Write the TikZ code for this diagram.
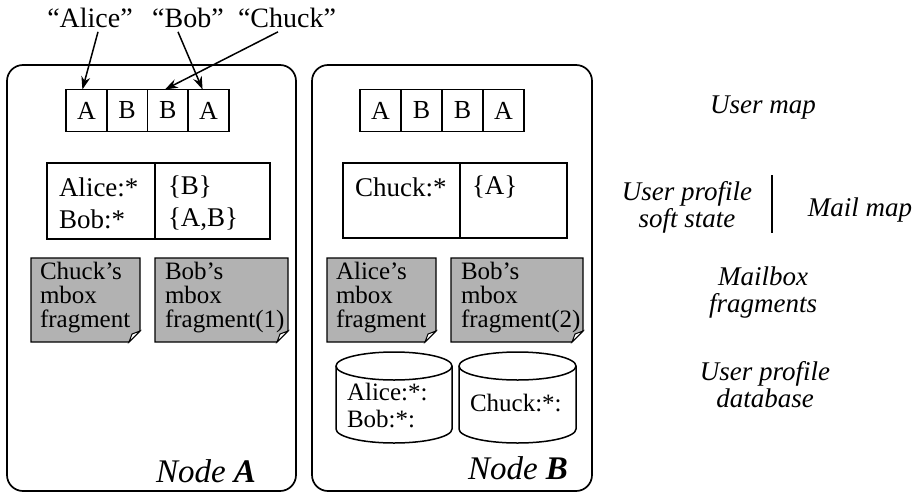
\documentclass[tikz,border=0pt]{standalone}
\usepackage{fontspec}
\setmainfont{Liberation Serif}
\usetikzlibrary{arrows.meta}
\begin{document}
\begin{tikzpicture}[x=1pt,y=-1pt,
  every node/.style={inner sep=0pt,outer sep=0pt},
  line/.style={line width=1.5pt},
  nodebox/.style={line width=1.7pt,rounded corners=16pt},
  cell/.style={draw,line width=1.5pt,minimum width=40.75pt,minimum height=42pt,font=\fontsize{26}{30}\selectfont},
  qlab/.style={font=\fontsize{28}{30}\selectfont},
  arr/.style={line width=1.5pt,-{Stealth[length=13pt,width=9pt]}},
  ttext/.style={font=\fontsize{27}{32}\selectfont,anchor=west},
  ftext/.style={font=\fontsize{25}{24}\selectfont,align=left,anchor=north west},
  frag/.style={line width=1.2pt,fill=black!30},
  ctext/.style={font=\fontsize{25}{27}\selectfont,align=left,anchor=west},
  side/.style={font=\itshape\fontsize{27}{27}\selectfont,align=center},
  ntitle/.style={font=\itshape\fontsize{33}{36}\selectfont,anchor=east}
]
\useasboundingbox (0,0) rectangle (915,495);

% node boxes
\draw[nodebox] (7,65) rectangle (296,491);
\draw[nodebox] (312,65) rectangle (592,491);

% top quote labels
\node[qlab] (qa) at (90,18) {“Alice”};
\node[qlab] (qb) at (188,18) {“Bob”};
\node[qlab] (qc) at (287,18) {“Chuck”};

% user map cells, node A
\node[cell] (a1) at (86.4,110.5) {A};
\node[cell] (a2) at (127.1,110.5) {B};
\node[cell] (a3) at (167.9,110.5) {B};
\node[cell] (a4) at (208.6,110.5) {A};
% user map cells, node B
\node[cell] (b1) at (380.5,110.5) {A};
\node[cell] (b2) at (421.5,110.5) {B};
\node[cell] (b3) at (462.5,110.5) {B};
\node[cell] (b4) at (503.5,110.5) {A};

% arrows
\draw[arr] ([xshift=8pt,yshift=-4pt]qa.south) -- ([xshift=-4pt]a1.north);
\draw[arr] ([xshift=-10pt,yshift=-4pt]qb.south) -- ([xshift=-6pt]a4.north);
\draw[arr] ([xshift=-9pt,yshift=-4pt]qc.south) -- ([xshift=-3pt]a3.north);

% profile / mail map tables
\draw[line] (47,163) rectangle (270,239);
\draw[line] (155,163) -- (155,239);
\node[ttext] (pa1) at (59,187) {Alice:*};
\node[ttext] (pa2) at (59,219) {Bob:*};
\node[ttext] (ma1) at (168,187) {\{B\}};
\node[ttext] (ma2) at (168,219) {\{A,B\}};

\draw[line] (343,163) rectangle (567,238);
\draw[line] (460,163) -- (460,238);
\node[ttext] (pb1) at (355,187) {Chuck:*};
\node[ttext] (mb1) at (472,187) {\{A\}};

% mailbox fragments
\def\frag#1#2#3#4{%
  \filldraw[frag] (#1,#2) -- (#3,#2) -- (#3,#4-11) -- (#3-11,#4) -- (#1,#4) -- cycle;
  \filldraw[line width=1pt,fill=white] (#3,#4-11) -- (#3-11,#4) -- (#3-8,#4-8) -- cycle;
}
\frag{31}{258}{140}{342}
\frag{155}{258}{288}{342}
\frag{327}{258}{436}{342}
\frag{451}{258}{583}{342}
\node[ftext] (fa1) at (40,262) {Chuck’s\\mbox\\fragment};
\node[ftext] (fa2) at (165,262) {Bob’s\\mbox\\fragment(1)};
\node[ftext] (fb1) at (336,262) {Alice’s\\mbox\\fragment};
\node[ftext] (fb2) at (461,262) {Bob’s\\mbox\\fragment(2)};

% database cylinders
\def\cyl#1#2{%
  \draw[line] (#1,366) ellipse [x radius=#2, y radius=14];
  \draw[line] (#1-#2,366) -- (#1-#2,429) arc[start angle=180,end angle=0,x radius=#2,y radius=14] -- (#1+#2,366);
}
\cyl{394}{58}
\cyl{517.5}{58.5}
\node[ctext] (db1) at (347,405) {Alice:*:\\Bob:*:};
\node[ctext] (db2) at (470,403) {Chuck:*:};

% node titles
\node[ntitle] (na) at (256,471) {Node \textbf{A}};
\node[ntitle] (nb) at (568,468) {Node \textbf{B}};

% side labels
\node[side] (s1) at (763,108) {User map};
\node[side] (s2) at (687,207) {User profile\\soft state};
\node[side] (s3) at (860,210) {Mail map};
\node[side] (s4) at (763,293) {Mailbox\\fragments};
\node[side] (s5) at (765,385) {User profile\\database};
\draw[line] (772,175) -- (772,233);
\end{tikzpicture}
\end{document}
